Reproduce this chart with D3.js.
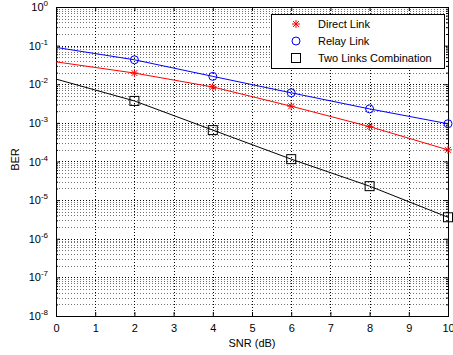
<!DOCTYPE html>
<html>
<head>
<meta charset="utf-8">
<script src="https://cdn.jsdelivr.net/npm/d3@7"></script>
<style>
  body { margin: 0; background: #fff; }
  text { font-family: "Liberation Sans", Arial, sans-serif; }
</style>
</head>
<body>
<div class="chart"></div>
<script>
// Data
var snr = [0, 2, 4, 6, 8, 10];
var directLink = [0.038, 0.0195, 0.0085, 0.0027, 0.0008, 0.0002];
var relayLink = [0.09, 0.043, 0.016, 0.006, 0.0023, 0.00095];
var twoLinks = [0.0136, 0.0037, 0.00065, 0.000115, 0.000023, 0.0000036];
var xTicks = [0, 1, 2, 3, 4, 5, 6, 7, 8, 9, 10];
var yExponents = [0, -1, -2, -3, -4, -5, -6, -7, -8];

var svgWidth = 453;
var svgHeight = 355;
var margin = {top: 7, right: 5, bottom: 39, left: 56};
var width = svgWidth - margin.left - margin.right;
var height = svgHeight - margin.top - margin.bottom;

var svg = d3.select(".chart").append("svg")
  .attr("width", svgWidth)
  .attr("height", svgHeight);

var chart = svg.append("g")
  .attr("transform", "translate(" + margin.left + "," + margin.top + ")");

var x = d3.scaleLinear().domain([0, 10]).range([0, width]);
var y = d3.scaleLog().domain([1e-8, 1]).range([height, 0]);

// minor log positions
var minorVals = [];
for (var e = -8; e < 0; e++) {
  for (var m = 2; m <= 9; m++) minorVals.push(m * Math.pow(10, e));
}
var majorVals = yExponents.map(function(e) { return Math.pow(10, e); });

// grid
var grid = chart.append("g").attr("stroke", "#000").attr("stroke-width", 1)
  .attr("stroke-dasharray", "1,2").attr("shape-rendering", "crispEdges");
grid.selectAll(".gx").data(xTicks.slice(1, -1)).enter().append("line")
  .attr("x1", function(d) { return Math.round(x(d)) + 0.5; })
  .attr("x2", function(d) { return Math.round(x(d)) + 0.5; })
  .attr("y1", 0).attr("y2", height);
grid.selectAll(".gmin").data(minorVals).enter().append("line")
  .attr("x1", 0).attr("x2", width)
  .attr("y1", function(d) { return Math.round(y(d)) + 0.5; })
  .attr("y2", function(d) { return Math.round(y(d)) + 0.5; })
  .attr("stroke-opacity", 0.55);
grid.selectAll(".gmaj").data(majorVals.slice(1, -1)).enter().append("line")
  .attr("x1", 0).attr("x2", width)
  .attr("y1", function(d) { return Math.round(y(d)) + 0.5; })
  .attr("y2", function(d) { return Math.round(y(d)) + 0.5; });

// box
chart.append("rect").attr("x", 0.5).attr("y", 0.5)
  .attr("width", width).attr("height", height)
  .attr("fill", "none").attr("stroke", "#000");

// axes with inward ticks
var bottomAxis = d3.axisBottom(x).tickValues(xTicks).tickSizeInner(-4).tickSizeOuter(0).tickPadding(8);
var topAxis = d3.axisTop(x).tickValues(xTicks).tickSizeInner(-4).tickSizeOuter(0).tickFormat("");
var leftAxis = d3.axisLeft(y).tickValues(majorVals).tickSizeInner(-4).tickSizeOuter(0).tickFormat("");
var rightAxis = d3.axisRight(y).tickValues(majorVals).tickSizeInner(-4).tickSizeOuter(0).tickFormat("");
var leftMinor = d3.axisLeft(y).tickValues(minorVals).tickSizeInner(-2).tickSizeOuter(0).tickFormat("");
var rightMinor = d3.axisRight(y).tickValues(minorVals).tickSizeInner(-2).tickSizeOuter(0).tickFormat("");

function styleAxis(g) {
  g.select(".domain").remove();
  g.selectAll("text").attr("font-size", 11).attr("fill", "#000")
    .attr("font-family", "Liberation Sans, Arial, sans-serif");
}
chart.append("g").attr("transform", "translate(0," + height + ")").call(bottomAxis).call(styleAxis);
chart.append("g").call(topAxis).call(styleAxis);
chart.append("g").call(leftAxis).call(styleAxis);
chart.append("g").attr("transform", "translate(" + width + ",0)").call(rightAxis).call(styleAxis);
chart.append("g").call(leftMinor).call(styleAxis);
chart.append("g").attr("transform", "translate(" + width + ",0)").call(rightMinor).call(styleAxis);

// y tick labels 10^n
var ylab = chart.append("g").selectAll("text").data(yExponents).enter().append("text")
  .attr("x", -8).attr("y", function(d) { return y(Math.pow(10, d)) + 4; })
  .attr("text-anchor", "end").attr("font-size", 11).attr("fill", "#000");
ylab.append("tspan").text("10");
ylab.append("tspan").attr("dy", -5).attr("font-size", 8).text(function(d) { return d; });

// axis titles
chart.append("text").attr("x", width / 2).attr("y", height + 31)
  .attr("text-anchor", "middle").attr("font-size", 11).text("SNR (dB)");
chart.append("text").attr("transform", "rotate(-90)")
  .attr("x", -height / 2 + 2).attr("y", -37)
  .attr("text-anchor", "middle").attr("font-size", 11).text("BER");

// series
var series = [
  {name: "Direct Link", values: directLink, color: "#ff0000", marker: "star"},
  {name: "Relay Link", values: relayLink, color: "#0000ff", marker: "circle"},
  {name: "Two Links Combination", values: twoLinks, color: "#000000", marker: "square"}
];

var line = d3.line()
  .x(function(d) { return x(d[0]); })
  .y(function(d) { return y(d[1]); });

function drawMarker(g, type, color) {
  if (type === "star") {
    g.append("path").attr("d", "M-4,0H4M0,-4V4M-3,-3L3,3M-3,3L3,-3")
      .attr("stroke", color).attr("stroke-width", 1).attr("fill", "none");
  } else if (type === "circle") {
    g.append("circle").attr("r", 4).attr("fill", "none").attr("stroke", color);
  } else {
    g.append("rect").attr("x", -4.5).attr("y", -4.5).attr("width", 9).attr("height", 9)
      .attr("fill", "none").attr("stroke", color);
  }
}

series.forEach(function(s) {
  var pts = snr.map(function(v, i) { return [v, s.values[i]]; });
  chart.append("path").datum(pts).attr("d", line)
    .attr("fill", "none").attr("stroke", s.color).attr("stroke-width", 1);
  pts.slice(1).forEach(function(p) {
    var g = chart.append("g").attr("transform", "translate(" + x(p[0]) + "," + y(p[1]) + ")");
    drawMarker(g, s.marker, s.color);
  });
});

// legend
var legend = svg.append("g").attr("transform", "translate(271,14)");
legend.append("rect").attr("x", 0.5).attr("y", 0.5).attr("width", 173).attr("height", 54)
  .attr("fill", "#fff").attr("stroke", "#000");
series.forEach(function(s, i) {
  var row = legend.append("g").attr("transform", "translate(25," + (10 + i * 17) + ")");
  drawMarker(row, s.marker, s.color);
  row.append("text").attr("x", 22).attr("y", 4).attr("font-size", 11).text(s.name);
});
</script>
</body>
</html>
